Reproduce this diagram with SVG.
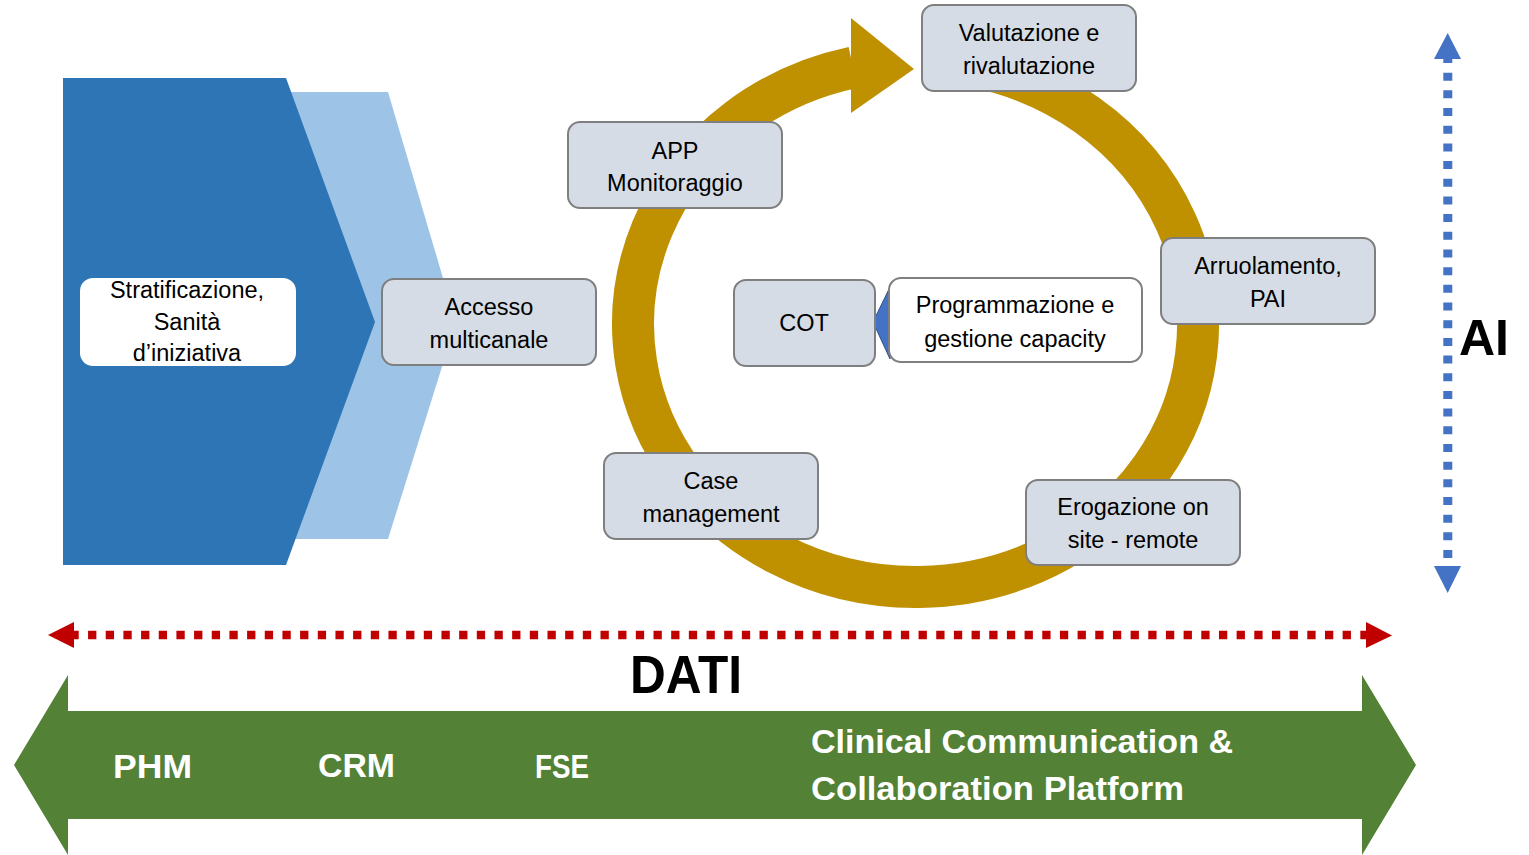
<svg xmlns="http://www.w3.org/2000/svg" width="1529" height="855" viewBox="0 0 1529 855">
  <style>
    .box { fill: #D6DCE5; stroke: #7F7F7F; stroke-width: 2; }
    .wbox { fill: #FFFFFF; stroke: #7F7F7F; stroke-width: 2; }
    .t { font-family: "Liberation Sans", Arial, sans-serif; font-size: 23.5px; fill: #000000; text-anchor: middle; }
    .g { font-family: "Liberation Sans", Arial, sans-serif; font-weight: bold; font-size: 34px; fill: #FFFFFF; }
    .big { font-family: "Liberation Sans", Arial, sans-serif; font-weight: bold; fill: #000000; }
  </style>
  <rect width="1529" height="855" fill="#FFFFFF"/>

  <!-- left chevrons -->
  <g id="chevrons">
    <polygon points="287,92 388,92 456,322 388,539 287,539" fill="#9DC3E6"/>
    <polygon points="63,78 286,78 375,322 286,565 63,565" fill="#2E75B6"/>
  </g>

  <!-- cycle ring arrow -->
  <g id="connectors">
    <path d="M 970 65.9 A 282.5 263 0 1 1 853 67.5" fill="none" stroke="#BF9000" stroke-width="42"/>
    <polygon points="851,18 914,69 851,113" fill="#BF9000"/>
    <!-- COT callout pointer -->
    <polygon points="890,287 873,322 890,359" fill="#4472C4" stroke="#2F528F" stroke-width="1"/>
    <!-- AI dotted double arrow -->
    <line x1="1447.8" y1="55" x2="1447.8" y2="566" stroke="#4472C4" stroke-width="9" stroke-dasharray="8 9.68"/>
    <polygon points="1447.7,33 1434,59 1461,59" fill="#4472C4"/>
    <polygon points="1434,566 1461,566 1447.7,593" fill="#4472C4"/>
    <!-- DATI dotted double arrow -->
    <line x1="70.4" y1="635" x2="1368" y2="635" stroke="#C00000" stroke-width="8.6" stroke-dasharray="8.3 9.37"/>
    <polygon points="48,635 74,622 74,648" fill="#C00000"/>
    <polygon points="1366,622 1392,635.5 1366,648" fill="#C00000"/>
  </g>

  <!-- green platform arrow -->
  <g id="platform">
    <polygon points="14,765 68,675 68,711 1362,711 1362,675 1416,765 1362,855 1362,819 68,819 68,855" fill="#538135"/>
    <text class="g" x="113" y="778" textLength="79" lengthAdjust="spacingAndGlyphs">PHM</text>
    <text class="g" x="318" y="777" textLength="77" lengthAdjust="spacingAndGlyphs">CRM</text>
    <text class="g" x="535" y="778" textLength="54" lengthAdjust="spacingAndGlyphs">FSE</text>
    <text class="g" x="811" y="753" textLength="422" lengthAdjust="spacingAndGlyphs">Clinical Communication &amp;</text>
    <text class="g" x="811" y="800" textLength="373" lengthAdjust="spacingAndGlyphs">Collaboration Platform</text>
  </g>

  <g id="label-dati">
    <text class="big" x="630" y="693" font-size="53" textLength="112" lengthAdjust="spacingAndGlyphs">DATI</text>
  </g>
  <g id="label-ai">
    <text class="big" x="1459" y="355" font-size="50">AI</text>
  </g>

  <g id="node-stratificazione">
    <rect x="80" y="278" width="216" height="88" rx="13" fill="#FFFFFF"/>
    <text class="t" x="187" y="298">Stratificazione,</text>
    <text class="t" x="187" y="330">Sanità</text>
    <text class="t" x="187" y="361">d’iniziativa</text>
  </g>

  <g id="node-accesso">
    <rect class="box" x="382" y="279" width="214" height="86" rx="12"/>
    <text class="t" x="489" y="315">Accesso</text>
    <text class="t" x="489" y="348">multicanale</text>
  </g>

  <g id="node-app">
    <rect class="box" x="568" y="122" width="214" height="86" rx="12"/>
    <text class="t" x="675" y="159">APP</text>
    <text class="t" x="675" y="191">Monitoraggio</text>
  </g>

  <g id="node-valutazione">
    <rect class="box" x="922" y="5" width="214" height="86" rx="12"/>
    <text class="t" x="1029" y="41">Valutazione e</text>
    <text class="t" x="1029" y="74">rivalutazione</text>
  </g>

  <g id="node-arruolamento">
    <rect class="box" x="1161" y="238" width="214" height="86" rx="12"/>
    <text class="t" x="1268" y="274">Arruolamento,</text>
    <text class="t" x="1268" y="307">PAI</text>
  </g>

  <g id="node-cot">
    <rect class="box" x="734" y="280" width="141" height="86" rx="12"/>
    <text class="t" x="804" y="331">COT</text>
  </g>

  <g id="node-programmazione">
    <rect class="wbox" x="889" y="278" width="253" height="84" rx="12"/>
    <text class="t" x="1015" y="313">Programmazione e</text>
    <text class="t" x="1015" y="347">gestione capacity</text>
  </g>

  <g id="node-case">
    <rect class="box" x="604" y="453" width="214" height="86" rx="12"/>
    <text class="t" x="711" y="489">Case</text>
    <text class="t" x="711" y="522">management</text>
  </g>

  <g id="node-erogazione">
    <rect class="box" x="1026" y="480" width="214" height="85" rx="12"/>
    <text class="t" x="1133" y="515">Erogazione on</text>
    <text class="t" x="1133" y="548">site - remote</text>
  </g>
</svg>
